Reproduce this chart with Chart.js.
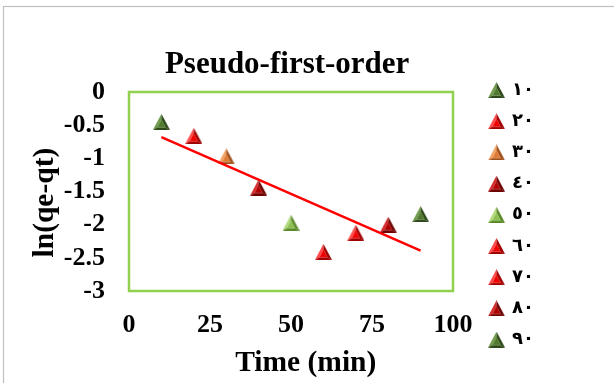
<!DOCTYPE html>
<html>
<head>
<meta charset="utf-8">
<script src="https://cdn.jsdelivr.net/npm/chart.js@4.4.1/dist/chart.umd.min.js"></script>
<style>
body { margin: 0; background: #fff; }
#grafico { display: block; }
</style>
</head>
<body>
<canvas id="grafico" width="614" height="383"></canvas>
<script>
// DATI
const tempi = [10, 20, 30, 40, 50, 60, 70, 80, 90];
const lnQ = [-0.45, -0.66, -0.97, -1.44, -1.97, -2.41, -2.12, -2.0, -1.84];
const etichette = ['١٠', '٢٠', '٣٠', '٤٠', '٥٠', '٦٠', '٧٠', '٨٠', '٩٠'];
const trendX = [10, 90];
const trendY = [-0.68, -2.39];
const xTicks = [0, 25, 50, 75, 100];
const yTicks = [0, -0.5, -1, -1.5, -2, -2.5, -3];

// colori marker: base, lato chiaro, lato scuro
const verdeScuro = ['#4f7a2e', '#6f9a4a', '#2f4a1a'];
const rosso = ['#f00000', '#ff4a4a', '#a00000'];
const arancio = ['#e07b35', '#f2a465', '#a0501a'];
const rossoScuro = ['#b00000', '#d42a2a', '#6e0000'];
const verdeChiaro = ['#8cc050', '#b2da7c', '#5a8a2a'];
const coloriSerie = [verdeScuro, rosso, arancio, rossoScuro, verdeChiaro, rosso, rosso, rossoScuro, verdeScuro];

function poligono(g, punti, colore) {
  g.beginPath();
  g.moveTo(punti[0][0], punti[0][1]);
  for (let i = 1; i < punti.length; i++) g.lineTo(punti[i][0], punti[i][1]);
  g.closePath();
  g.fillStyle = colore;
  g.fill();
}

// triangolo con effetto smussato (come Excel)
function triangolo(c) {
  const cv = document.createElement('canvas');
  cv.width = 17; cv.height = 16;
  const g = cv.getContext('2d');
  const A = [8.5, 0], L = [0, 16], R = [17, 16];
  const a = [8.5, 5.5], l = [4.5, 13.5], r = [12.5, 13.5];
  poligono(g, [A, L, l, a], c[1]);
  poligono(g, [A, a, r, R], c[2]);
  poligono(g, [L, R, r, l], c[2]);
  poligono(g, [a, l, r], c[0]);
  return cv;
}

const marker = coloriSerie.map(triangolo);

const datasets = [{
  type: 'line',
  label: 'trend',
  data: trendX.map((x, i) => ({ x: x, y: trendY[i] })),
  borderColor: '#ff0000',
  borderWidth: 2.5,
  pointRadius: 0,
  fill: false,
  order: -1
}];
tempi.forEach((t, i) => {
  datasets.push({
    label: etichette[i],
    data: [{ x: t, y: lnQ[i] }],
    pointStyle: marker[i],
    pointRadius: 9
  });
});

// bordo esterno + riquadro area grafico
const cornici = {
  id: 'cornici',
  beforeDraw(chart) {
    const ctx = chart.ctx;
    ctx.save();
    ctx.strokeStyle = '#bfbfbf';
    ctx.lineWidth = 1.2;
    ctx.strokeRect(3.5, 6.5, 700, 500);
    ctx.restore();
  },
  beforeDatasetsDraw(chart) {
    const a = chart.chartArea;
    const ctx = chart.ctx;
    ctx.save();
    ctx.strokeStyle = '#92d050';
    ctx.lineWidth = 2.5;
    ctx.strokeRect(a.left, a.top, a.right - a.left, a.bottom - a.top);
    ctx.restore();
  }
};

// legenda a destra
const legendaLaterale = {
  id: 'legendaLaterale',
  afterDraw(chart) {
    const ctx = chart.ctx;
    ctx.save();
    ctx.font = 'bold 18px "DejaVu Sans"';
    ctx.textBaseline = 'middle';
    ctx.textAlign = 'left';
    ctx.fillStyle = '#000';
    chart.data.datasets.slice(1).forEach((ds, i) => {
      const y = 90 + i * 31.2;
      ctx.drawImage(ds.pointStyle, 496.5 - 8.5, y - 8);
      ctx.fillText(ds.label, 512, y);
    });
    ctx.restore();
  }
};

const fontBold = (s) => ({ family: '"Liberation Serif", "Times New Roman", serif', size: s, weight: 'bold' });

new Chart(document.getElementById('grafico'), {
  type: 'scatter',
  data: { datasets: datasets },
  options: {
    responsive: false,
    animation: false,
    events: [],
    layout: { padding: { left: 27.4, right: 161, top: 46.2, bottom: 2.2 } },
    plugins: {
      legend: { display: false },
      tooltip: { enabled: false },
      title: {
        display: true,
        text: 'Pseudo-first-order ',
        color: '#000',
        font: fontBold(31),
        fullSize: false,
        padding: { top: 0, bottom: 8.6 }
      }
    },
    scales: {
      x: {
        type: 'linear',
        min: 0,
        max: 100,
        afterFit: s => { s.height = 89.8; },
        afterBuildTicks: s => { s.ticks = xTicks.map(v => ({ value: v })); },
        grid: { display: false },
        border: { display: false },
        ticks: { color: '#000', font: fontBold(26), padding: 11, maxRotation: 0, autoSkip: false },
        title: { display: true, text: '    Time (min)', color: '#000', font: fontBold(29.5), padding: 0 }
      },
      y: {
        type: 'linear',
        min: -3,
        max: 0,
        afterFit: s => { s.width = 101.6; },
        afterBuildTicks: s => { s.ticks = yTicks.map(v => ({ value: v })); },
        grid: { display: false },
        border: { display: false },
        ticks: { color: '#000', font: fontBold(26), padding: 16, autoSkip: false, callback: v => String(v) },
        title: { display: true, text: 'ln(qe-qt)   ', color: '#000', font: fontBold(29.5), padding: 0 }
      }
    }
  },
  plugins: [cornici, legendaLaterale]
});
</script>
</body>
</html>
